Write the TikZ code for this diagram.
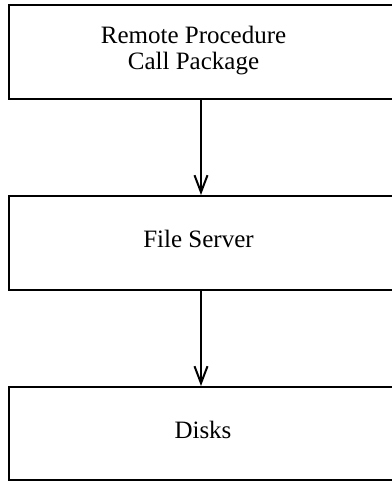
\documentclass[tikz,border=0pt]{standalone}
\usepackage{fontspec}
\setmainfont{Liberation Serif}
\usetikzlibrary{arrows.meta}
\begin{document}
\begin{tikzpicture}[x=1pt,y=-1pt,
  layerbox/.style={draw=black, line width=2pt, minimum width=384pt, inner sep=0pt},
  layertext/.style={inner sep=0pt, anchor=base, font=\fontsize{25}{26.5}\selectfont, align=center},
  flow/.style={draw=black, line width=2pt, -{Straight Barb[length=17pt,width=13pt,line width=2pt]}}]
\useasboundingbox (0,0) rectangle (391,481);
\node[layerbox, minimum height=93.5pt] (rpc) at (201,52.25) {};
\node[layerbox, minimum height=94pt] (fs) at (201,243) {};
\node[layerbox, minimum height=93pt] (disks) at (201,433.5) {};
\node[layertext] (rpct1) at (193.5,43.5) {Remote Procedure};
\node[layertext] (rpct2) at (193.5,70) {Call Package};
\node[layertext] (fst) at (198.5,247) {File Server};
\node[layertext] (diskst) at (203,438) {Disks};
\draw[flow] (rpc.south) -- (fs.north);
\draw[flow] (fs.south) -- (disks.north);
\end{tikzpicture}
\end{document}
